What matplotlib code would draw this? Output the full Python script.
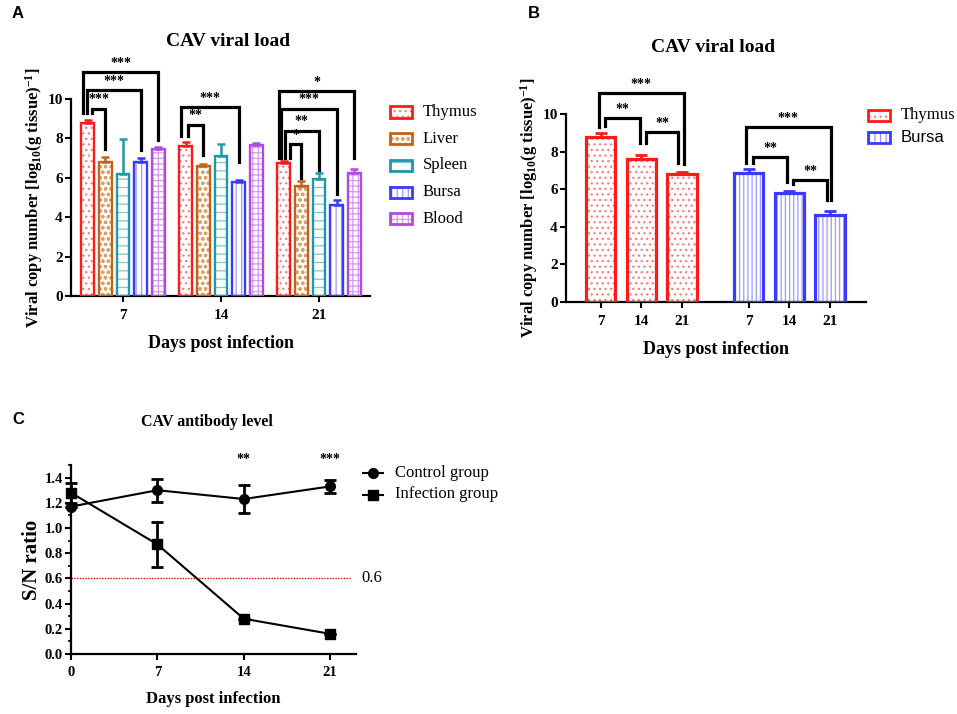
import matplotlib; matplotlib.use("Agg")
import matplotlib.pyplot as plt, numpy as np
from matplotlib.patches import Rectangle
from matplotlib.lines import Line2D

# ---- panel A: viral load per tissue ----
DAYS = ["7", "14", "21"]
TISSUES = ["Thymus", "Liver", "Spleen", "Bursa", "Blood"]
LOAD_MEAN = {
    "Thymus": [8.8, 7.6, 6.75],
    "Liver":  [6.8, 6.6, 5.6],
    "Spleen": [6.2, 7.1, 5.95],
    "Bursa":  [6.8, 5.8, 4.6],
    "Blood":  [7.45, 7.65, 6.25],
}
LOAD_ERR = {
    "Thymus": [0.12, 0.2, 0.12],
    "Liver":  [0.25, 0.12, 0.25],
    "Spleen": [1.75, 0.6, 0.3],
    "Bursa":  [0.22, 0.1, 0.25],
    "Blood":  [0.12, 0.12, 0.2],
}
# significance brackets: (day index, tissue from, tissue to, label)
SIG_A = [(0, 0, 1, "***"), (0, 0, 3, "***"), (0, 0, 4, "***"),
         (1, 0, 1, "**"), (1, 0, 3, "***"),
         (2, 0, 1, "*"), (2, 0, 2, "**"), (2, 0, 3, "***"), (2, 0, 4, "*")]

# ---- panel B: thymus vs bursa ----
B_THYMUS = [8.8, 7.6, 6.8]
B_THYMUS_ERR = [0.18, 0.22, 0.1]
B_BURSA = [6.85, 5.82, 4.62]
B_BURSA_ERR = [0.2, 0.08, 0.22]
SIG_B = [(0, 1, "**"), (1, 2, "**"), (0, 2, "***")]

# ---- panel C: antibody S/N ratio ----
C_DAYS = [0, 7, 14, 21]
CONTROL = [1.17, 1.30, 1.23, 1.33]
CONTROL_ERR = [0.0, 0.09, 0.11, 0.05]
INFECTION = [1.28, 0.87, 0.28, 0.16]
INFECTION_ERR = [0.08, 0.18, 0.0, 0.0]
C_SIG = {14: "**", 21: "***"}
CUTOFF = 0.6

W, H = 957, 714
fig = plt.figure(figsize=(W / 100, H / 100), dpi=100)
plt.rcParams["mathtext.fontset"] = "custom"
plt.rcParams["mathtext.rm"] = "Liberation Serif:bold"
plt.rcParams["mathtext.it"] = "Liberation Serif:bold"
plt.rcParams["hatch.linewidth"] = 0.9
SERIF = "Liberation Serif"
SANS = "Liberation Sans"

def px(x, y):
    return x / W, 1 - y / H

def axes_px(l, r, b, t):
    return fig.add_axes([l / W, 1 - b / H, (r - l) / W, (b - t) / H])

def style(ax, fs=10):
    for s in ("top", "right"):
        ax.spines[s].set_visible(False)
    for s in ("left", "bottom"):
        ax.spines[s].set_linewidth(1.6)
    ax.tick_params(width=1.5, length=4, labelsize=fs, pad=2)
    ax.tick_params(axis="x", pad=5)
    for lab in ax.get_xticklabels() + ax.get_yticklabels():
        lab.set_fontfamily(SERIF); lab.set_fontweight("bold")

COL = {"Thymus": "#ff1a1a", "Liver": "#c2621c", "Spleen": "#1f98a8", "Bursa": "#3a3aff", "Blood": "#b04ae0"}
LIGHT = {"Thymus": "#ff7a7a", "Liver": "#e0a062", "Spleen": "#7cc8d2", "Bursa": "#9a9aff", "Blood": "#d49af0"}
HATCH = {"Thymus": "...", "Liver": "ooo", "Spleen": "--", "Bursa": "|||", "Blood": "+++"}

def hbar(ax, x, h, w, t, lw=1.7, hatch=None):
    ax.bar(x, h, w, color="white", edgecolor=LIGHT[t], hatch=hatch or HATCH[t], linewidth=0, zorder=2)
    ax.bar(x, h, w, color="none", edgecolor=COL[t], linewidth=lw, zorder=3)

def bracket(ax, x1, x2, y, b1, b2, label, fs=10):
    ax.plot([x1, x1, x2, x2], [b1, y, y, b2], color="black", lw=2.3,
            solid_joinstyle="miter", clip_on=False, zorder=4)
    ax.text((x1 + x2) / 2, y + 0.12, label, ha="center", va="bottom",
            fontsize=fs, family=SERIF, fontweight="bold")

# ================= A =================
axA = axes_px(71, 370, 296, 99)
step, bw = 0.18, 0.128
for i, t in enumerate(TISSUES):
    xs = np.arange(3) + (i - 2) * step
    hbar(axA, xs, LOAD_MEAN[t], bw, t)
    axA.errorbar(xs, LOAD_MEAN[t], yerr=[np.zeros(3), LOAD_ERR[t]], fmt="none",
                 ecolor=COL[t], elinewidth=1.8, capsize=3, capthick=1.8, zorder=3)
axA.set_xlim(-0.53, 2.52); axA.set_ylim(0, 10)
axA.set_xticks(range(3)); axA.set_xticklabels(DAYS)
axA.set_yticks(range(0, 11, 2))
style(axA, 11)

# bracket geometry per day (heights in data units)
geoA = {
    (0, 1): (9.5, 9.3, 7.45, 0.04), (0, 3): (10.45, 9.3, 7.4, -0.01), (0, 4): (11.35, 9.3, 7.9, -0.05),
    (1, 1): (8.7, 8.1, 7.15, 0.02), (1, 3): (9.6, 8.1, 6.8, -0.05),
    (2, 1): (7.7, 7.0, 6.0, 0.06), (2, 2): (8.4, 7.0, 6.4, 0.01),
    (2, 3): (9.5, 7.0, 5.2, -0.03), (2, 4): (10.4, 7.0, 7.0, -0.05),
}
for d, a, b, lab in SIG_A:
    y, b1, b2, off = geoA[(d, b)]
    x1 = d + (a - 2) * step + off
    x2 = d + (b - 2) * step
    bracket(axA, x1, x2, y, b1, b2, lab)

axA.set_ylabel(r"Viral copy number [log$_{10}$(g tissue)$^{-1}$]", family=SERIF,
               fontweight="bold", fontsize=12, labelpad=2)
axA.set_xlabel("Days post infection", family=SERIF, fontweight="bold", fontsize=13, labelpad=10)
fig.text(*px(228, 42), "CAV viral load", family=SERIF, fontweight="bold", fontsize=14, ha="center", va="center")
fig.text(*px(12, 14), "A", family=SANS, fontweight="bold", fontsize=12, ha="left", va="center")

def legend_row(x0, yc, t, label, fam=SERIF, hatch=None):
    lx, ly = px(x0, yc + 5.5)
    for kw in (dict(facecolor="white", edgecolor=LIGHT[t], hatch=hatch or HATCH[t], lw=0),
               dict(facecolor="none", edgecolor=COL[t], lw=2)):
        fig.add_artist(Rectangle((lx, ly), 22 / W, 11 / H, transform=fig.transFigure, **kw))
    fig.text(*px(x0 + 33, yc), label, family=fam, fontsize=12, ha="left", va="center")

for k, t in enumerate(TISSUES):
    legend_row(390, 112 + k * 26.7, t, t)

# ================= B =================
axB = axes_px(566, 866, 302, 114)
xB = np.array([0, 1, 2, 3.65, 4.65, 5.65])
hbar(axB, xB[:3], B_THYMUS, 0.72, "Thymus", lw=2.3)
hbar(axB, xB[3:], B_BURSA, 0.72, "Bursa", lw=2.3, hatch="||||")
axB.errorbar(xB[:3], B_THYMUS, yerr=[np.zeros(3), B_THYMUS_ERR], fmt="none",
             ecolor=COL["Thymus"], elinewidth=2, capsize=4.5, capthick=2, zorder=3)
axB.errorbar(xB[3:], B_BURSA, yerr=[np.zeros(3), B_BURSA_ERR], fmt="none",
             ecolor=COL["Bursa"], elinewidth=2, capsize=4.5, capthick=2, zorder=3)
axB.set_xlim(-0.86, 6.54); axB.set_ylim(0, 10)
axB.set_xticks(xB); axB.set_xticklabels(DAYS + DAYS)
axB.set_yticks(range(0, 11, 2))
style(axB, 11)
geoB = [
    {(0, 1): (9.8, 9.35, 8.45, 0.1, -0.03), (1, 2): (9.05, 8.45, 7.4, 0.12, -0.1), (0, 2): (11.1, 9.3, 7.35, -0.05, 0.05)},
    {(0, 1): (7.7, 7.4, 6.4, 0.1, -0.05), (1, 2): (6.5, 6.3, 5.4, 0.1, -0.08), (0, 2): (9.3, 7.4, 5.4, -0.08, 0.03)},
]
for g, base in enumerate((0, 3)):
    for a, b, lab in SIG_B:
        y, b1, b2, o1, o2 = geoB[g][(a, b)]
        bracket(axB, xB[base + a] + o1, xB[base + b] + o2, y, b1, b2, lab)
axB.set_ylabel(r"Viral copy number [log$_{10}$(g tissue)$^{-1}$]", family=SERIF,
               fontweight="bold", fontsize=12, labelpad=2)
axB.set_xlabel("Days post infection", family=SERIF, fontweight="bold", fontsize=13, labelpad=10)
fig.text(*px(713, 48), "CAV viral load", family=SERIF, fontweight="bold", fontsize=14, ha="center", va="center")
fig.text(*px(528, 14), "B", family=SANS, fontweight="bold", fontsize=12, ha="left", va="center")
legend_row(868, 115, "Thymus", "Thymus")
legend_row(868, 137, "Bursa", "Bursa", fam=SANS)

# ================= C =================
axC = axes_px(71, 356, 654, 465)
axC.errorbar(C_DAYS, CONTROL, yerr=CONTROL_ERR, color="black", marker="o", ms=7, lw=1.5,
             elinewidth=2, capsize=4, capthick=2, label="Control group", clip_on=False, zorder=4)
axC.errorbar(C_DAYS, INFECTION, yerr=INFECTION_ERR, color="black", marker="s", ms=7, lw=1.5,
             elinewidth=2, capsize=4, capthick=2, label="Infection group", clip_on=False, zorder=4)
axC.axhline(CUTOFF, xmin=0, xmax=22.7 / 23.1, color="red", lw=1, ls=(0, (1, 1)))
axC.text(23.5, CUTOFF, f"{CUTOFF}", family=SERIF, fontsize=12, va="center", ha="left")
for d, lab in C_SIG.items():
    axC.text(d, 1.49, lab, family=SERIF, fontsize=10, fontweight="bold", ha="center", va="bottom")
axC.set_xlim(0, 23.1); axC.set_ylim(0, 1.5)
axC.set_xticks(C_DAYS)
axC.set_yticks(np.arange(0, 1.41, 0.2))
axC.set_yticks(np.arange(0, 1.51, 0.1), minor=True)
axC.yaxis.set_major_formatter(matplotlib.ticker.FormatStrFormatter("%.1f"))
axC.tick_params(which="minor", width=1.2, length=2.5)
style(axC, 10.5)
axC.set_ylabel("S/N ratio", family=SERIF, fontweight="bold", fontsize=15, labelpad=2)
axC.set_xlabel("Days post infection", family=SERIF, fontweight="bold", fontsize=12, labelpad=8)
fig.text(*px(207, 422), "CAV antibody level", family=SERIF, fontweight="bold", fontsize=11.5, ha="center", va="center")
fig.text(*px(12, 420), "C", family=SANS, fontweight="bold", fontsize=12, ha="left", va="center")
for k, (mk, lab) in enumerate((("o", "Control group"), ("s", "Infection group"))):
    yc = 473 + k * 21.5
    x0, y0 = px(363, yc); x1, _ = px(383, yc)
    fig.add_artist(Line2D([x0, x1], [y0, y0], transform=fig.transFigure, color="black", lw=1.5))
    fig.add_artist(Line2D([(x0 + x1) / 2], [y0], transform=fig.transFigure, color="black",
                          marker=mk, ms=7))
    fig.text(*px(395, yc), lab, family=SERIF, fontsize=12, ha="left", va="center")

fig.savefig("out.png", dpi=100)
